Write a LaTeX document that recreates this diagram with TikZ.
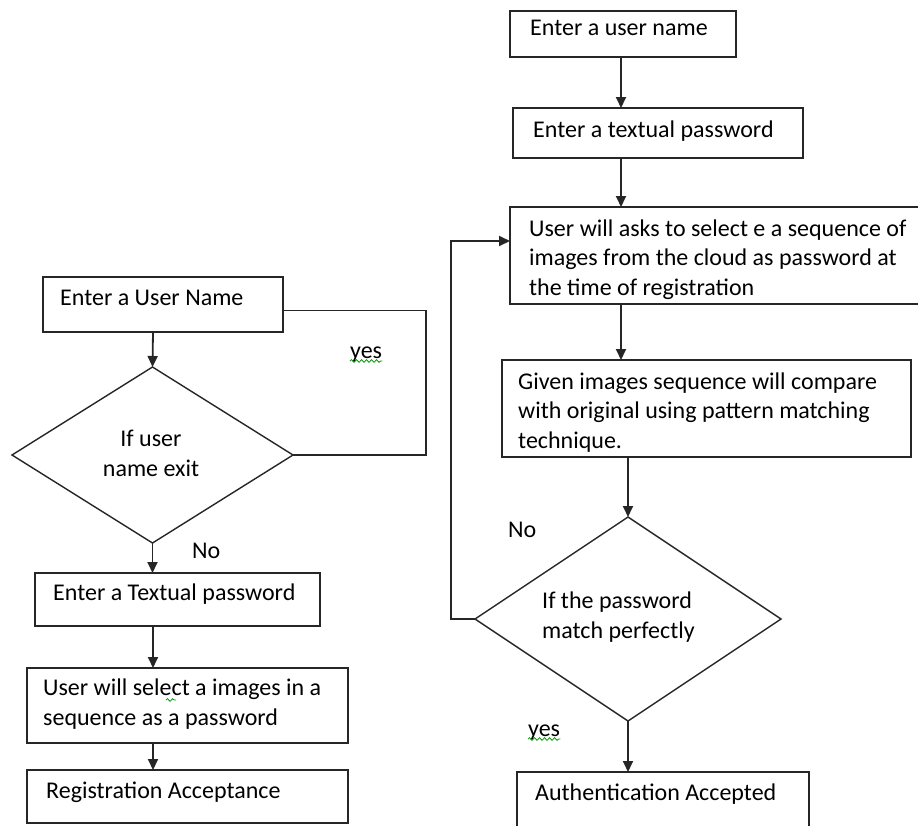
\documentclass[tikz,border=0pt]{standalone}
\usepackage{fontspec}
\setmainfont{Carlito}
\usetikzlibrary{arrows.meta,shapes.geometric,decorations.pathmorphing}
\tikzset{
  box/.style={draw=black!85,line width=1.8pt,rectangle,inner sep=0,outer sep=0},
  ask/.style={draw=black!85,line width=1.4pt,diamond,inner sep=0,outer sep=0},
  txt/.style={font=\fontsize{24}{29.5}\selectfont,inner sep=0,anchor=base west,align=left},
  line/.style={draw=black!85,line width=1.8pt},
  arr/.style={line,-{Triangle[width=10pt,length=11pt]}},
  squig/.style={draw=green!60!black,line width=0.8pt,decorate,
    decoration={snake,amplitude=1.3pt,segment length=5pt}}
}

\begin{document}
\begin{tikzpicture}[x=1pt,y=-1pt]
\useasboundingbox (0,0) rectangle (918,825);

% registration side
\node[box,minimum width=240,minimum height=55] (un) at (163,304.5) {};
\node[ask,minimum width=281,minimum height=176] (d1) at (152.5,455) {};
\node[box,minimum width=285,minimum height=53] (tp) at (177.5,599.5) {};
\node[box,minimum width=321,minimum height=75] (si) at (187.5,705.5) {};
\node[box,minimum width=321,minimum height=53] (ra) at (187.5,796.5) {};

\node[txt] (un-t) at (60,305) {Enter a User Name};
\node[txt,anchor=base,align=center] (d1-t) at (151,476) {If user\\name exit};
\node[txt] (tp-t) at (53,600) {Enter a Textual password};
\node[txt] (si-t) at (43,725) {User will select a images in a\\sequence as a password};
\node[txt] (ra-t) at (46,798) {Registration Acceptance};
\node[txt] (yes1) at (350,358) {yes};
\node[txt] (no1) at (192,558) {No};

% authentication side
\node[box,minimum width=226,minimum height=46] (ua) at (623,34) {};
\node[box,minimum width=290,minimum height=50] (ub) at (658,133) {};
\node[box,minimum width=420,minimum height=97] (uc) at (720,255.5) {};
\node[box,minimum width=409,minimum height=97] (ud) at (706.5,408.5) {};
\node[ask,minimum width=306,minimum height=204] (d2) at (628,619) {};
\node[box,minimum width=292,minimum height=68] (ue) at (663,806) {};

\node[txt] (ua-t) at (530,35) {Enter a user name};
\node[txt] (ub-t) at (533,137) {Enter a textual password};
\node[txt] (uc-t) at (529,295) {User will asks to select e a sequence of\\images from the cloud as password at\\the time of registration};
\node[txt] (ud-t) at (518,448) {Given images sequence will compare\\with original using pattern matching\\technique.};
\node[txt] (d2-t) at (542,638) {If the password\\match perfectly};
\node[txt] (ue-t) at (535,800) {Authentication Accepted};
\node[txt] (no2) at (508,537) {No};
\node[txt] (yes2) at (528,736) {yes};

% spelling marks
\draw[squig] ([yshift=-3pt]yes1.base west) -- ([yshift=-3pt]yes1.base east);
\draw[squig] ([yshift=-3pt]yes2.base west) -- ([yshift=-3pt]yes2.base east);
\draw[squig] (166,700) -- (176,700);

% connectors
\coordinate (lcol) at (153,0);
\coordinate (rcol) at (621,0);
\coordinate (yesturn) at (426,380);
\coordinate (noturn) at (451,400);
\draw[arr] (un.south -| lcol) -- (d1.north);
\draw[arr] (d1.south) -- (tp.north -| d1.south);
\draw[arr] (tp.south -| lcol) -- (si.north -| lcol);
\draw[arr] (si.south -| lcol) -- (ra.north -| lcol);
\draw[line] ([yshift=-6pt]un.east) -| (yesturn) |- (d1.east);

\draw[arr] (ua.south -| rcol) -- (ub.north -| rcol);
\draw[arr] (ub.south -| rcol) -- (uc.north -| rcol);
\draw[arr] (uc.south -| rcol) -- (ud.north -| rcol);
\draw[arr] (ud.south -| d2.north) -- (d2.north);
\draw[arr] (d2.south) -- (ue.north -| d2.south);
\draw[arr] (d2.west) -| (noturn) |- ([yshift=14.5pt]uc.west);
\end{tikzpicture}
\end{document}
